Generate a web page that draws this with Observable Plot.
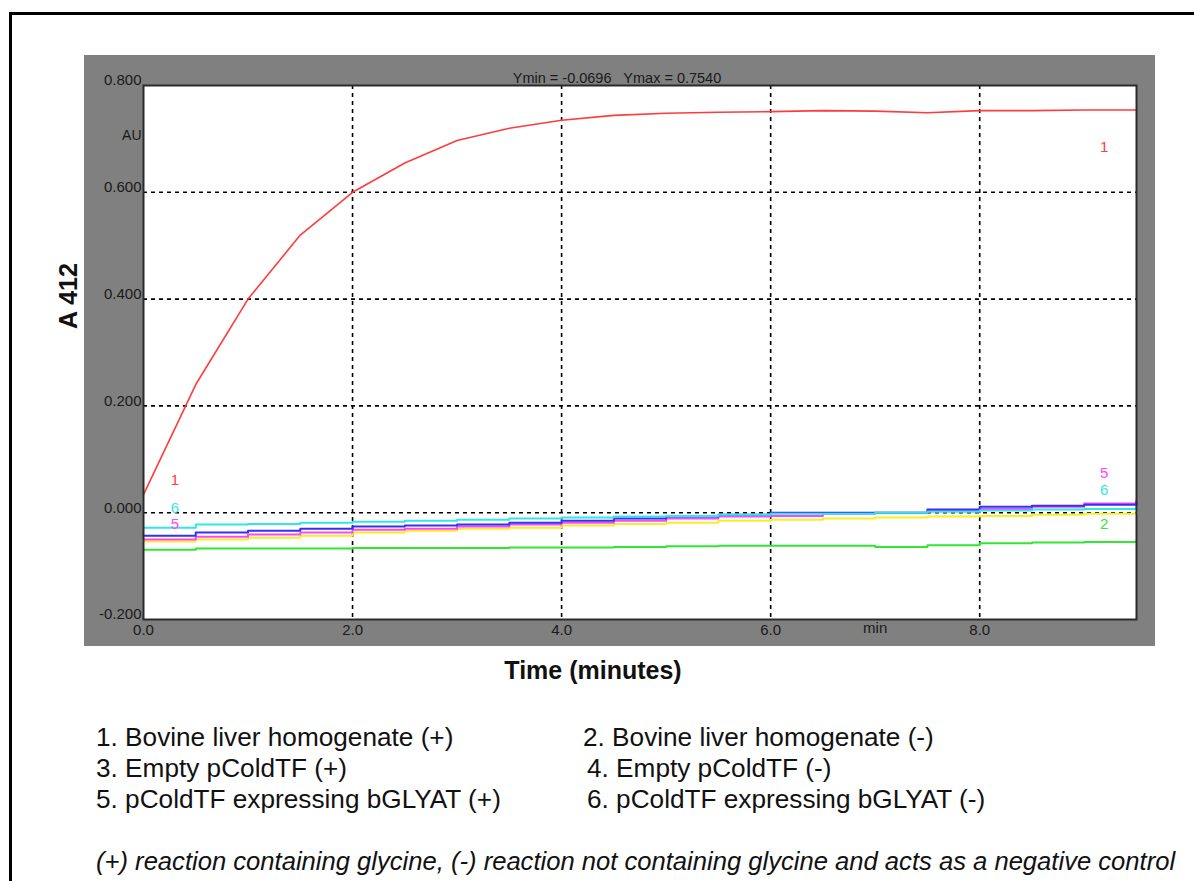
<!DOCTYPE html>
<html>
<head>
<meta charset="utf-8">
<script src="https://cdn.jsdelivr.net/npm/d3@7"></script>
<script src="https://cdn.jsdelivr.net/npm/@observablehq/plot@0.6"></script>
<style>
  html, body { margin: 0; padding: 0; background: #fff; }
  body { width: 1194px; height: 881px; overflow: hidden; position: relative; font-family: Arial, "Liberation Sans", sans-serif; color: #111; }
  #border { position: absolute; left: 9px; top: 12px; width: 1400px; height: 1200px; border: 3px solid #000; }
  #chart { position: absolute; left: 84px; top: 55px; }
  .ylab { position: absolute; left: 68px; top: 296px; transform: translate(-50%, -50%) rotate(-90deg); font-weight: bold; font-size: 25px; white-space: nowrap; }
  .xlab { position: absolute; left: 593px; top: 670px; transform: translate(-50%, -50%); font-weight: bold; font-size: 25px; white-space: nowrap; }
  .leg { position: absolute; font-size: 26.2px; white-space: nowrap; line-height: 1; }
  .foot { position: absolute; left: 96px; top: 849px; font-size: 25.6px; font-style: italic; white-space: nowrap; line-height: 1; }
</style>
</head>
<body>
<div id="border"></div>
<div id="chart"></div>
<div class="ylab">A 412</div>
<div class="xlab">Time (minutes)</div>
<div id="legend"></div>
<div class="foot">(+) reaction containing glycine, (-) reaction not containing glycine and acts as a negative control</div>
<script>
// ---- data ----
const redTime = [0, 0.5, 1.0, 1.5, 2.0, 2.5, 3.0, 3.5, 4.0, 4.5, 5.0, 5.5, 6.0, 6.5, 7.0, 7.5, 8.0, 8.5, 9.0, 9.5];
const series1 = [0.034, 0.24, 0.40, 0.52, 0.60, 0.655, 0.697, 0.72, 0.735, 0.744, 0.748, 0.750, 0.751, 0.753, 0.752, 0.749, 0.753, 0.753, 0.754, 0.754];
const lowTime = [0, 0.5, 1.0, 1.5, 2.0, 2.5, 3.0, 3.5, 4.0, 4.5, 5.0, 5.5, 6.0, 6.5, 7.0, 7.5, 8.0, 8.5, 9.0, 9.5];
const series2 = [-0.0696, -0.067, -0.067, -0.067, -0.066, -0.066, -0.066, -0.065, -0.065, -0.064, -0.063, -0.062, -0.062, -0.062, -0.064, -0.061, -0.057, -0.056, -0.055, -0.052];
const series3 = [-0.043, -0.037, -0.034, -0.030, -0.026, -0.024, -0.022, -0.019, -0.015, -0.011, -0.007, -0.004, 0.000, 0.000, 0.000, 0.006, 0.011, 0.013, 0.015, 0.021];
const series4 = [-0.054, -0.050, -0.047, -0.043, -0.037, -0.034, -0.030, -0.028, -0.024, -0.021, -0.019, -0.015, -0.013, -0.011, -0.009, -0.007, -0.006, -0.004, -0.002, 0.002];
const series5 = [-0.050, -0.045, -0.041, -0.037, -0.032, -0.030, -0.026, -0.022, -0.019, -0.015, -0.011, -0.007, -0.006, -0.002, 0.000, 0.004, 0.007, 0.011, 0.017, 0.024];
const series6 = [-0.028, -0.022, -0.021, -0.019, -0.017, -0.015, -0.013, -0.011, -0.009, -0.007, -0.006, -0.004, -0.002, -0.002, 0.000, 0.002, 0.004, 0.006, 0.007, 0.011];
const seriesNames = ["1", "2", "3", "4", "5", "6"];
const seriesColors = ["#ff3b3b", "#33e633", "#3333ee", "#f7ef22", "#ff44ff", "#33e6e6"];
const xTicks = [0, 2, 4, 6, 8];
const yTicks = [-0.2, 0, 0.2, 0.4, 0.6, 0.8];
const gridXValues = [2, 4, 6, 8];
const gridYValues = [0, 0.2, 0.4, 0.6];
const curveLabels = [
  {t: 0.30, v: 0.060, s: "1"}, {t: 9.19, v: 0.684, s: "1"},
  {t: 0.30, v: 0.008, s: "6"}, {t: 9.19, v: 0.043, s: "6"},
  {t: 0.30, v: -0.022, s: "5"}, {t: 9.19, v: 0.074, s: "5"},
  {t: 9.19, v: -0.022, s: "2"}
];
const legendLeft = ["1. Bovine liver homogenate (+)", "3. Empty pColdTF (+)", "5. pColdTF expressing bGLYAT (+)"];
const legendRight = ["2. Bovine liver homogenate (-)", "4. Empty pColdTF (-)", "6. pColdTF expressing bGLYAT (-)"];
const headerText = "Ymin = -0.0696   Ymax = 0.7540";

// ---- build ----
const colorOf = Object.fromEntries(seriesNames.map((n, i) => [n, seriesColors[i]]));
const rows = [];
redTime.forEach((t, i) => rows.push({t, v: series1[i], s: "1"}));
const lows = {"2": series2, "3": series3, "4": series4, "5": series5, "6": series6};
const drawOrder = ["2", "4", "5", "3", "6"];

const lowMarks = drawOrder.map(s => Plot.line(lowTime.map((t, i) => ({t, v: lows[s][i]})), {
  x: "t", y: "v", stroke: colorOf[s], strokeWidth: 2, curve: "step-after"
}));

const fmtY = d => d.toFixed(3);
const fmtX = d => d.toFixed(1);

const chart = Plot.plot({
  width: 1071, height: 591,
  marginLeft: 59, marginRight: 19, marginTop: 30, marginBottom: 27,
  style: {background: "#808080", fontFamily: "Arial, 'Liberation Sans', sans-serif", fontSize: "15px", color: "#1a1a1a", overflow: "visible"},
  x: {domain: [0, 9.5]},
  y: {domain: [-0.2, 0.8]},
  marks: [
    Plot.frame({fill: "#fff", stroke: null}),
    Plot.gridX(gridXValues, {stroke: "#000", strokeOpacity: 1, strokeWidth: 1.6, strokeDasharray: "4,4"}),
    Plot.gridY(gridYValues, {stroke: "#000", strokeOpacity: 1, strokeWidth: 1.6, strokeDasharray: "4,4"}),
    ...lowMarks,
    Plot.line(rows, {x: "t", y: "v", stroke: colorOf["1"], strokeWidth: 1.6}),
    Plot.text(curveLabels, {x: "t", y: "v", text: "s", fill: d => colorOf[d.s], fontSize: 15}),
    Plot.frame({stroke: "#2a2a2a", strokeWidth: 2}),
    Plot.axisX(xTicks, {tickSize: 0, tickPadding: 5, tickFormat: fmtX, label: null, fill: "#1a1a1a", fontSize: 15}),
    Plot.axisY(yTicks, {tickSize: 0, tickPadding: 2, dy: -5, tickFormat: fmtY, label: null, fill: "#1a1a1a", fontSize: 15}),
    Plot.text(["min"], {x: 7.0, frameAnchor: "bottom", dy: 13, text: d => d, fill: "#1a1a1a", fontSize: 15}),
    Plot.text(["AU"], {y: 0.706, frameAnchor: "left", dx: -2, textAnchor: "end", text: d => d, fill: "#1a1a1a", fontSize: 14}),
    Plot.text([headerText], {frameAnchor: "top", dy: -13, dx: -23, text: d => d, fill: "#1a1a1a", fontSize: 14.5})
  ]
});
document.getElementById("chart").appendChild(chart);

const leg = document.getElementById("legend");
const rowTops = [724, 755, 786];
legendLeft.forEach((txt, i) => {
  const d = document.createElement("div");
  d.className = "leg"; d.textContent = txt;
  d.style.left = "96px"; d.style.top = rowTops[i] + "px";
  leg.appendChild(d);
});
legendRight.forEach((txt, i) => {
  const d = document.createElement("div");
  d.className = "leg"; d.textContent = txt;
  d.style.left = (i === 0 ? 583 : 587) + "px"; d.style.top = rowTops[i] + "px";
  leg.appendChild(d);
});
</script>
</body>
</html>
